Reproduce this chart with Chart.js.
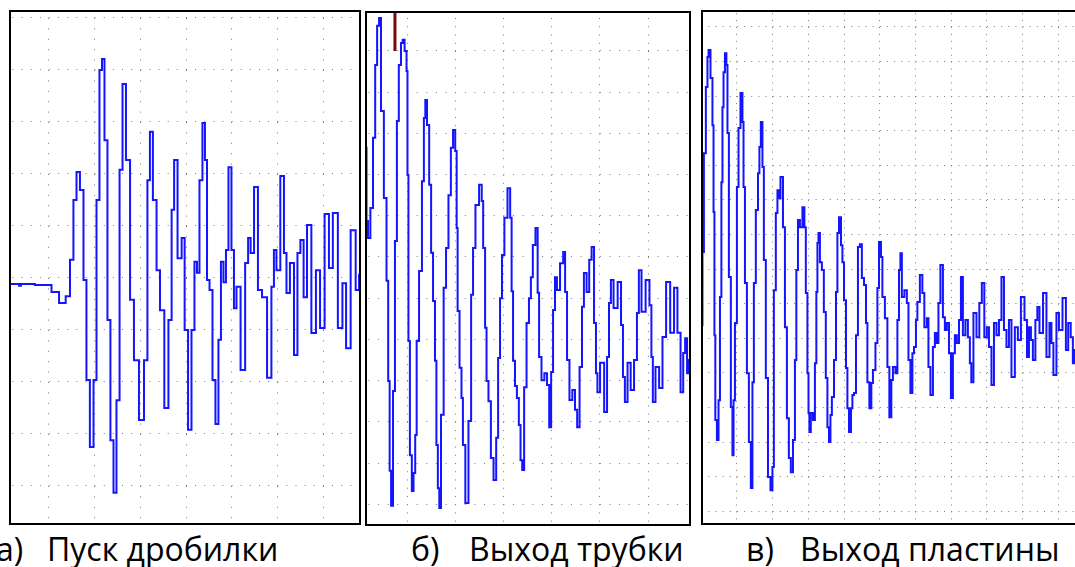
<!DOCTYPE html>
<html lang="ru">
<head>
    <meta charset="UTF-8">
    <title>Осциллограммы</title>
    <style>
        html, body {
            margin: 0;
            padding: 0;
            background: #fff;
        }

        body {
            width: 1075px;
            height: 567px;
            position: relative;
            overflow: hidden;
            font-family: "Open Sans", sans-serif;
        }

        .panel {
            position: absolute;
            border: 2px solid #000;
            background: #fff;
        }

        .panel canvas {
            display: block;
        }

        .cap {
            position: absolute;
            top: 529px;
            font-size: 32px;
            line-height: 40px;
            color: #000;
            white-space: nowrap;
        }
    </style>
</head>
<body>
    <!-- три осциллограммы -->
    <div class="panel" style="left:9px; top:10px;"><canvas id="chartA" width="348" height="511"></canvas></div>
    <div class="panel" style="left:365px; top:11px;"><canvas id="chartB" width="322" height="511"></canvas></div>
    <div class="panel" style="left:701px; top:10px; border-right:none;"><canvas id="chartC" width="372" height="511"></canvas></div>

    <!-- подписи -->
    <div class="cap" style="left:-4px;">а)</div>
    <div class="cap" style="left:47px;">Пуск дробилки</div>
    <div class="cap" style="left:411px;">б)</div>
    <div class="cap" style="left:469px;">Выход трубки</div>
    <div class="cap" style="left:746px;">в)</div>
    <div class="cap" style="left:800px;">Выход пластины</div>

    <script src="https://cdn.jsdelivr.net/npm/chart.js"></script>
    <script>
        // а) Пуск дробилки: время и амплитуда в делениях сетки
        const aTime = [-0.85, -0.68, -0.63, -0.60, -0.02, 0.13, 0.31, 0.42, 0.50, 0.57,
            0.635, 0.72, 0.79, 0.85, 0.94, 1.01, 1.07, 1.14, 1.18, 1.25,
            1.31, 1.38, 1.445, 1.51, 1.58, 1.64, 1.73, 1.82, 1.90, 2.04,
            2.12, 2.19, 2.23, 2.32, 2.39, 2.47, 2.58, 2.65, 2.72, 2.76,
            2.87, 2.94, 3.00, 3.09, 3.15, 3.22, 3.26, 3.33, 3.39, 3.44,
            3.48, 3.55, 3.61, 3.68, 3.74, 3.79, 3.85, 3.90, 3.96, 4.03,
            4.07, 4.14, 4.25, 4.34, 4.38, 4.45, 4.53, 4.62, 4.71, 4.84,
            4.90, 4.95, 5.01, 5.12, 5.17, 5.23, 5.32, 5.41, 5.47, 5.54,
            5.61, 5.69, 5.80, 5.89, 5.98, 6.09, 6.17, 6.26, 6.39, 6.46,
            6.55, 6.66, 6.77, 6.81];
        const aVolt = [-0.115, -0.115, -0.15, -0.115, -0.135, -0.27, -0.48, -0.35, 0.35, 1.5,
            2.04, 1.69, -0.04, -1.96, -3.25, -1.96, 1.5, 4.0, 4.21, 2.65,
            -0.81, -3.12, -4.13, -2.35, 2.08, 3.73, 2.27, -0.42, -1.58, -2.73,
            -1.58, 1.88, 2.81, 1.5, 0.15, -0.62, -2.5, -0.81, 1.31, 2.27,
            0.38, 0.77, -1.0, -2.92, -1.0, 0.31, 0.1, 1.88, 2.98, 2.27,
            -0.04, -0.23, -1.96, -2.81, -1.19, 0.31, -0.08, 0.54, 2.13, 0.54,
            -0.58, -0.17, -1.77, 0.29, 0.77, 0.48, 1.75, -0.23, -0.37, -1.92,
            -0.17, 0.54, 0.15, 1.96, 0.48, -0.29, 0.29, -1.48, 0.48, 0.73,
            -0.37, 1.02, -1.06, 0.15, -0.96, 1.23, 0.19, 1.25, -0.96, -0.1,
            -1.35, 0.92, -0.23, 0.06];

        // б) Выход трубки
        const bTime = [-0.85, -0.83, -0.79, -0.73, -0.68, -0.64, -0.60, -0.56, -0.52, -0.44,
            -0.41, -0.37, -0.35, -0.31, -0.27, -0.23, -0.19, -0.15, -0.10, -0.08,
            -0.02, 0.00, 0.02, 0.04, 0.08, 0.12, 0.15, 0.19, 0.21, 0.29,
            0.33, 0.37, 0.39, 0.44, 0.48, 0.52, 0.56, 0.60, 0.62, 0.66,
            0.68, 0.73, 0.79, 0.83, 0.89, 0.93, 0.98, 1.02, 1.04, 1.06,
            1.12, 1.14, 1.18, 1.24, 1.31, 1.35, 1.39, 1.45, 1.54, 1.56,
            1.60, 1.64, 1.66, 1.72, 1.76, 1.83, 1.87, 1.91, 1.95, 1.99,
            2.05, 2.12, 2.16, 2.18, 2.22, 2.26, 2.30, 2.34, 2.37, 2.41,
            2.45, 2.51, 2.55, 2.59, 2.63, 2.70, 2.72, 2.76, 2.82, 2.88,
            2.93, 2.97, 3.01, 3.05, 3.09, 3.13, 3.22, 3.26, 3.30, 3.34,
            3.40, 3.46, 3.51, 3.55, 3.61, 3.65, 3.69, 3.76, 3.80, 3.86,
            3.90, 3.94, 3.96, 4.05, 4.13, 4.17, 4.21, 4.25, 4.32, 4.42,
            4.46, 4.50, 4.54, 4.61, 4.67, 4.75, 4.79, 4.83, 4.90, 5.00,
            5.06, 5.08, 5.12, 5.19, 5.27, 5.33, 5.42, 5.50, 5.58, 5.64,
            5.71, 5.75, 5.79, 5.83, 5.87];
        const bVolt = [2.65, 0.87, 0.46, 1.19, 2.89, 4.66, 5.61, 5.80, 3.54, 1.43,
            -0.58, -3.01, -5.19, -6.04, -3.25, 0.39, 3.30, 4.66, 5.19, 5.27,
            5.0, 4.51, 1.99, -2.04, -4.81, -5.68, -5.24, -4.32, -2.04, -0.34,
            1.84, 3.37, 3.81, 3.20, 1.75, 0.10, -1.07, -2.52, -4.56, -5.61,
            -6.09, -3.83, -0.75, 0.22, 1.50, 2.65, 3.08, 2.57, 0.70, -1.31,
            -2.69, -3.42, -4.56, -5.97, -3.98, -0.92, 0.22, 1.26, 1.75, 1.36,
            0.22, -1.72, -3.01, -3.50, -4.88, -5.41, -4.39, -2.45, -1.0, 0.05,
            0.95, 1.67, 0.95, -0.83, -2.52, -3.13, -3.42, -4.08, -4.93, -5.17,
            -3.16, -1.60, -1.0, -0.49, 0.29, 0.70, -0.87, -2.43, -2.99, -2.82,
            -3.11, -4.13, -2.79, -1.29, -0.49, -0.80, -0.15, 0.12, -0.85, -2.50,
            -3.47, -3.23, -3.71, -4.13, -2.67, -1.21, -0.39, -0.85, -0.07, 0.24,
            -1.60, -2.82, -3.28, -2.57, -3.76, -2.43, -1.12, -0.56, -1.24, -0.61,
            -1.65, -2.91, -3.52, -2.57, -3.23, -2.50, -1.36, -0.32, -1.33, -0.56,
            -1.17, -2.43, -3.52, -2.67, -3.18, -1.94, -0.61, -1.84, -0.75, -1.84,
            -3.28, -2.33, -1.97, -2.82, -2.5];
        // курсор (красная метка) в окне б)
        const bCursorTime = [-0.25, -0.25];
        const bCursorVolt = [6.5, 5.0];

        // в) Выход пластины
        const cTime = [-0.98, -0.95, -0.90, -0.84, -0.81, -0.78, -0.70, -0.67, -0.64, -0.62,
            -0.59, -0.53, -0.50, -0.45, -0.42, -0.39, -0.36, -0.31, -0.28, -0.25,
            -0.20, -0.14, -0.11, -0.08, -0.03, 0.03, 0.06, 0.14, 0.17, 0.20,
            0.25, 0.31, 0.36, 0.42, 0.45, 0.50, 0.56, 0.62, 0.64, 0.70,
            0.73, 0.78, 0.84, 0.90, 0.98, 1.01, 1.06, 1.12, 1.15, 1.18,
            1.26, 1.32, 1.37, 1.43, 1.48, 1.54, 1.60, 1.65, 1.68, 1.74,
            1.79, 1.88, 1.90, 1.96, 1.99, 2.02, 2.04, 2.10, 2.16, 2.21,
            2.24, 2.27, 2.30, 2.35, 2.41, 2.46, 2.52, 2.55, 2.61, 2.63,
            2.69, 2.75, 2.80, 2.83, 2.89, 2.94, 2.97, 3.03, 3.08, 3.11,
            3.17, 3.22, 3.25, 3.31, 3.36, 3.42, 3.47, 3.53, 3.59, 3.64,
            3.67, 3.75, 3.78, 3.84, 3.92, 3.95, 4.01, 4.06, 4.09, 4.20,
            4.23, 4.31, 4.34, 4.40, 4.48, 4.51, 4.57, 4.59, 4.65, 4.73,
            4.79, 4.82, 4.90, 4.93, 4.99, 5.04, 5.07, 5.18, 5.21, 5.29,
            5.35, 5.38, 5.46, 5.52, 5.57, 5.63, 5.66, 5.74, 5.80, 5.85,
            5.91, 5.97, 6.02, 6.08, 6.13, 6.19, 6.25, 6.30, 6.36, 6.44,
            6.50, 6.55, 6.58, 6.67, 6.75, 6.83, 6.89, 6.97, 7.03, 7.09,
            7.17, 7.23, 7.31, 7.37, 7.45, 7.51, 7.59, 7.65, 7.73, 7.84,
            7.90, 8.01, 8.10, 8.15, 8.21, 8.26, 8.32, 8.40, 8.43, 8.52,
            8.63, 8.71, 8.80, 8.82, 8.91, 8.99, 9.05, 9.19, 9.24, 9.32,
            9.38, 9.44, 9.47];
        const cVolt = [-1.62, 0.49, 3.35, 5.26, 6.13, 6.33, 5.52, 4.16, 1.65, -1.91,
            -4.36, -4.94, -3.79, -0.81, 2.51, 4.68, 5.69, 6.24, 5.90, 3.93,
            -0.23, -3.99, -5.38, -3.79, -1.56, 2.37, 4.08, 5.09, 4.25, 2.37,
            -0.40, -3.01, -5.0, -6.33, -3.27, -0.40, 1.71, 2.77, 3.53, 4.25,
            2.95, 0.26, -3.15, -6.01, -6.39, -5.72, -0.61, 1.62, 2.28, 2.05,
            2.66, 1.21, -1.68, -4.31, -5.46, -5.87, -4.94, -2.63, -0.03, 1.42,
            1.21, 1.79, 1.21, -0.69, -3.01, -4.16, -4.71, -4.16, -4.36, -2.72,
            -0.66, 0.75, 1.04, 0.20, -0.03, -1.24, -3.15, -4.57, -5.0, -4.22,
            -3.70, -2.63, -0.66, 1.04, 1.50, 0.69, 0.20, -0.90, -2.86, -4.02,
            -4.71, -4.02, -3.64, -3.58, -1.91, 0.64, 0.72, -0.26, -0.46, -1.56,
            -3.27, -4.02, -3.29, -2.92, -2.14, -0.55, 0.78, 0.35, -0.81, -1.42,
            -2.83, -4.28, -3.21, -2.83, -3.01, -1.47, -0.03, 0.46, -0.81, -0.61,
            -0.98, -2.63, -3.58, -2.43, -2.25, -1.47, -0.95, -0.17, -0.69, -1.68,
            -1.42, -2.83, -3.64, -2.25, -1.85, -2.14, -0.98, 0.12, -1.39, -1.76,
            -1.56, -2.43, -3.73, -2.43, -1.91, -2.14, -1.47, -0.23, -1.91, -1.47,
            -1.97, -2.72, -3.27, -1.27, -1.97, -0.98, -0.40, -1.97, -1.68, -2.25,
            -3.35, -1.56, -1.91, -1.47, -0.23, -1.76, -2.25, -1.47, -3.12, -1.68,
            -2.05, -0.81, -1.47, -2.54, -1.68, -2.05, -2.63, -1.47, -1.10, -1.85,
            -0.69, -2.54, -1.56, -2.14, -3.06, -1.27, -1.76, -0.84, -2.34, -1.56,
            -1.97, -2.72, -2.34];

        // линии сетки (в делениях)
        const aGridX = [0, 1, 2, 3, 4, 5, 6];
        const aGridY = [-4, -3, -2, -1, 0, 1, 2, 3, 4, 5];
        const bGridX = [0, 1, 2, 3, 4, 5];
        const bGridY = [-6, -5, -4, -3, -2, -1, 0, 1, 2, 3, 4, 5];
        const cGridX = [0, 1, 2, 3, 4, 5, 6, 7, 8, 9];
        const cGridY = [-7, -6, -5, -4, -3, -2, -1, 0, 1, 2, 3, 4, 5, 6, 7];

        const TRACE = '#1414ff';
        const GRID = '#7c7c7c';

        function toPoints(times, volts) {
            return times.map((t, i) => ({ x: t, y: volts[i] }));
        }

        function makeScope(id, datasets, view) {
            const axis = (range, ticks, dash) => ({
                type: 'linear',
                min: range[0],
                max: range[1],
                afterBuildTicks: ax => { ax.ticks = ticks.map(v => ({ value: v })); },
                ticks: { display: false },
                grid: { color: GRID, lineWidth: 1, drawTicks: false },
                border: { display: false, dash: dash[0], dashOffset: dash[1] }
            });
            return new Chart(document.getElementById(id), {
                type: 'line',
                data: { datasets },
                options: {
                    responsive: false,
                    animation: false,
                    events: [],
                    layout: { padding: 0 },
                    plugins: { legend: { display: false }, tooltip: { enabled: false } },
                    scales: {
                        x: axis(view.x, view.gridX, view.dashX),
                        y: axis(view.y, view.gridY, view.dashY)
                    }
                }
            });
        }

        // ступенчатая линия, как у цифрового осциллографа
        function trace(times, volts) {
            return {
                data: toPoints(times, volts),
                borderColor: TRACE,
                borderWidth: 2,
                pointRadius: 0,
                tension: 0,
                stepped: 'middle'
            };
        }

        makeScope('chartA', [trace(aTime, aVolt)], {
            x: [-0.832, 6.788], y: [-4.712, 5.115],
            gridX: aGridX, gridY: aGridY,
            dashX: [[1, 9.4], 4.4], dashY: [[1, 8.13], 7.66]
        });

        makeScope('chartB', [
            {
                data: toPoints(bCursorTime, bCursorVolt),
                borderColor: '#7a0a0a',
                borderWidth: 3,
                pointRadius: 0
            },
            trace(bTime, bVolt)
        ], {
            x: [-0.83, 5.85], y: [-6.48, 5.92],
            gridX: bGridX, gridY: bGridY,
            dashX: [[1, 7.24], 3.2], dashY: [[1, 8.64], 8.2]
        });

        makeScope('chartC', [trace(cTime, cVolt)], {
            x: [-0.95, 9.47], y: [-7.34, 7.43],
            gridX: cGridX, gridY: cGridY,
            dashX: [[1, 5.92], 5.76], dashY: [[1, 6.14], 1.7]
        });
    </script>
</body>
</html>
